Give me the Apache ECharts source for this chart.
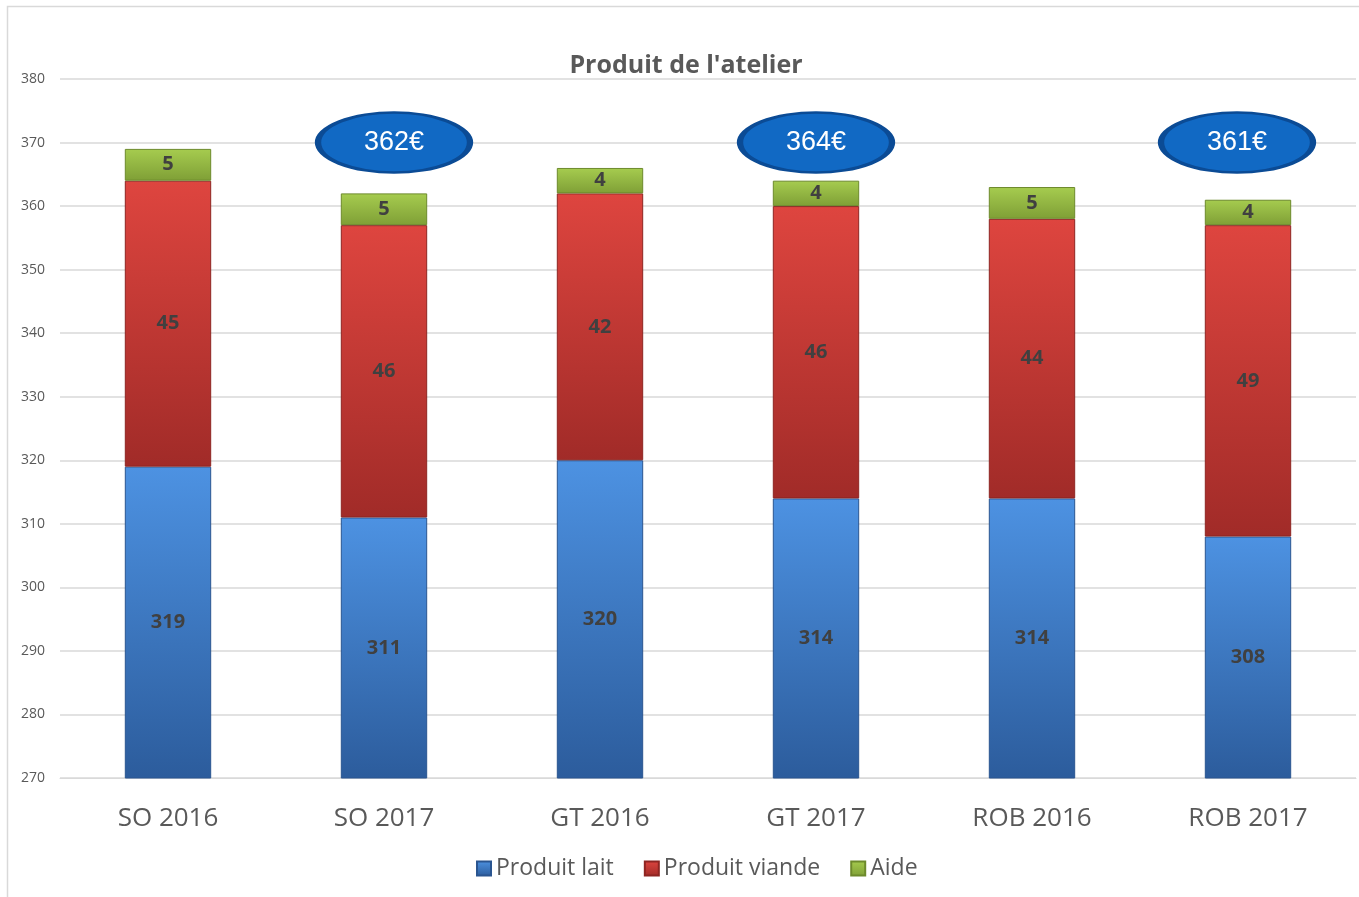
<!DOCTYPE html>
<html>
<head>
<meta charset="utf-8">
<script src="https://cdn.jsdelivr.net/npm/echarts@6/dist/echarts.min.js"></script>
<style>
  html, body { margin: 0; padding: 0; background: #fff; }
  #chart { width: 1359px; height: 897px; }
</style>
</head>
<body>
<div id="chart"></div>
<script>
const categories = ['SO 2016', 'SO 2017', 'GT 2016', 'GT 2017', 'ROB 2016', 'ROB 2017'];
const lait = [319, 311, 320, 314, 314, 308];
const viande = [45, 46, 42, 46, 44, 49];
const aide = [5, 5, 4, 4, 5, 4];
const yTicks = [270, 280, 290, 300, 310, 320, 330, 340, 350, 360, 370, 380];
// totals shown in the ellipses
const bubbles = [
  { cat: 'SO 2017', y: 370, text: '362€', dx: 10 },
  { cat: 'GT 2017', y: 370, text: '364€', dx: 0 },
  { cat: 'ROB 2017', y: 370, text: '361€', dx: -11 }
];

const font = '"Open Sans", "Noto Sans", sans-serif';

function grad(top, bottom) {
  return new echarts.graphic.LinearGradient(0, 0, 0, 1, [
    { offset: 0, color: top },
    { offset: 1, color: bottom }
  ]);
}

const labelStyle = {
  show: true,
  position: 'inside',
  color: '#404040',
  fontWeight: 'bold',
  fontSize: 20,
  fontFamily: font
};

const chart = echarts.init(document.getElementById('chart'));
chart.setOption({
  backgroundColor: '#fff',
  animation: false,
  title: {
    text: "Produit de l'atelier",
    left: 681,
    textAlign: 'center',
    top: 48,
    textStyle: { color: '#595959', fontSize: 25, fontWeight: 'bold', fontFamily: font }
  },
  graphic: [{
    type: 'rect',
    shape: { x: 7.5, y: 6.5, width: 1360, height: 900 },
    style: { fill: 'none', stroke: '#d9d9d9', lineWidth: 1.5 },
    silent: true
  }],
  legend: {
    bottom: 12,
    left: 471,
    itemWidth: 14,
    itemHeight: 14,
    itemGap: 30,
    icon: 'rect',
    textStyle: { color: '#595959', fontSize: 23, fontFamily: font }
  },
  grid: { left: 60, right: 3, top: 79, bottom: 119 },
  xAxis: {
    type: 'category',
    data: categories,
    axisLine: { lineStyle: { color: '#d9d9d9' } },
    axisTick: { show: false },
    axisLabel: { color: '#595959', fontSize: 26, margin: 28, fontFamily: font }
  },
  yAxis: {
    type: 'value',
    min: yTicks[0],
    max: yTicks[yTicks.length - 1],
    interval: 10,
    axisLine: { show: false },
    axisTick: { show: false },
    axisLabel: { color: '#595959', fontSize: 14, margin: 15, align: 'right', fontFamily: font },
    splitLine: { lineStyle: { color: '#d9d9d9', width: 1.5 } }
  },
  series: [
    {
      name: 'Produit lait',
      type: 'bar',
      stack: 'total',
      barWidth: '40%',
      data: lait,
      itemStyle: { color: grad('#4d92e2', '#2c5c9c'), borderColor: '#2a5590', borderWidth: 1 },
      label: labelStyle
    },
    {
      name: 'Produit viande',
      type: 'bar',
      stack: 'total',
      data: viande,
      itemStyle: { color: grad('#de453f', '#a12b28'), borderColor: '#8e2522', borderWidth: 1 },
      label: labelStyle
    },
    {
      name: 'Aide',
      type: 'bar',
      stack: 'total',
      data: aide,
      itemStyle: { color: grad('#a6cc4f', '#7f9f36'), borderColor: '#6d8a2c', borderWidth: 1 },
      label: labelStyle,
      markPoint: {
        symbol: 'circle',
        symbolSize: [152, 60],
        itemStyle: { color: '#1169c4', borderColor: '#0b4b95', borderWidth: 4 },
        label: {
          show: true,
          color: '#fff',
          fontSize: 27,
          fontFamily: 'Liberation Sans, Arial, sans-serif'
        },
        data: bubbles.map(b => ({
          coord: [b.cat, b.y],
          value: b.text,
          symbolOffset: [b.dx, 0]
        }))
      }
    }
  ]
});
</script>
</body>
</html>
